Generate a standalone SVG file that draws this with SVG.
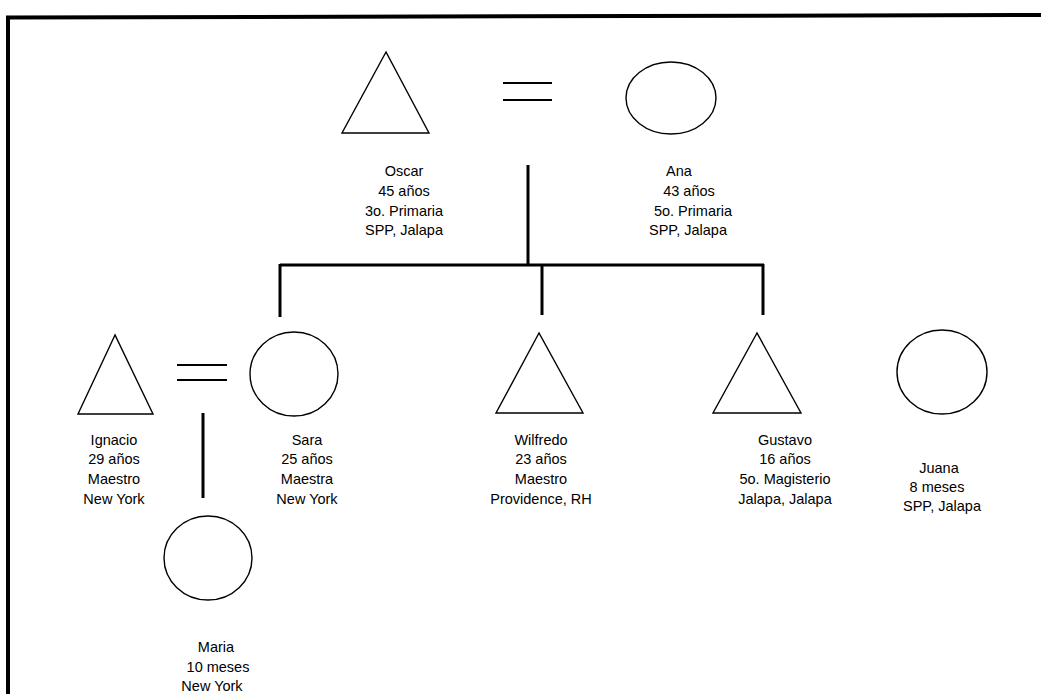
<svg xmlns="http://www.w3.org/2000/svg" width="1041" height="694" viewBox="0 0 1041 694">
<style>
.shape{fill:none;stroke:#000;stroke-width:1.4}
.eq{stroke:#000;stroke-width:1.8}
.line{stroke:#000;stroke-width:3;fill:none}
.frame{stroke:#000;fill:none}
text{font-family:"Liberation Sans",Arial,sans-serif;font-size:14.5px;fill:#000;text-anchor:middle}
</style>
<rect width="1041" height="694" fill="#fff"/>
<g id="frame">
<path class="frame" d="M6 17.5 L1041 15" stroke-width="4"/>
<path class="frame" d="M8 16 L8 694" stroke-width="4"/>
</g>
<g id="connectors">
<line class="eq" x1="503" y1="83" x2="552" y2="83"/>
<line class="eq" x1="503" y1="100" x2="552" y2="100"/>
<line class="eq" x1="177" y1="365" x2="227" y2="365"/>
<line class="eq" x1="177" y1="380" x2="227" y2="380"/>
<line class="line" x1="528" y1="165" x2="528" y2="265"/>
<line class="line" x1="280" y1="265" x2="764" y2="265"/>
<line class="line" x1="280" y1="264" x2="280" y2="317"/>
<line class="line" x1="542" y1="264" x2="542" y2="315"/>
<line class="line" x1="763" y1="264" x2="763" y2="315"/>
<line class="line" x1="203" y1="413" x2="203" y2="498"/>
</g>
<g id="oscar">
<polygon class="shape" points="386,52 342,133 429,133"/>
<text x="404" y="176">Oscar</text>
<text x="404" y="196">45 años</text>
<text x="404" y="216">3o. Primaria</text>
<text x="404" y="235">SPP, Jalapa</text>
</g>
<g id="ana">
<ellipse class="shape" cx="671" cy="98" rx="45" ry="36"/>
<text x="679" y="176">Ana</text>
<text x="689" y="196">43 años</text>
<text x="693" y="216">5o. Primaria</text>
<text x="688" y="235">SPP, Jalapa</text>
</g>
<g id="ignacio">
<polygon class="shape" points="115,335 78,414 153,414"/>
<text x="114" y="445">Ignacio</text>
<text x="114" y="464">29 años</text>
<text x="114" y="484">Maestro</text>
<text x="114" y="504">New York</text>
</g>
<g id="sara">
<ellipse class="shape" cx="294" cy="374" rx="44" ry="42"/>
<text x="307" y="445">Sara</text>
<text x="307" y="464">25 años</text>
<text x="307" y="484">Maestra</text>
<text x="307" y="504">New York</text>
</g>
<g id="maria">
<ellipse class="shape" cx="208" cy="558" rx="44" ry="42"/>
<text x="216" y="652">Maria</text>
<text x="218" y="672">10 meses</text>
<text x="212" y="691">New York</text>
</g>
<g id="wilfredo">
<polygon class="shape" points="539,333 496,413 583,413"/>
<text x="541" y="445">Wilfredo</text>
<text x="541" y="464">23 años</text>
<text x="541" y="484">Maestro</text>
<text x="541" y="504">Providence, RH</text>
</g>
<g id="gustavo">
<polygon class="shape" points="757,333 713,413 801,413"/>
<text x="785" y="445">Gustavo</text>
<text x="785" y="464">16 años</text>
<text x="785" y="484">5o. Magisterio</text>
<text x="785" y="504">Jalapa, Jalapa</text>
</g>
<g id="juana">
<ellipse class="shape" cx="942" cy="372" rx="45" ry="42"/>
<text x="939" y="473">Juana</text>
<text x="937" y="492">8 meses</text>
<text x="942" y="511">SPP, Jalapa</text>
</g>
</svg>
